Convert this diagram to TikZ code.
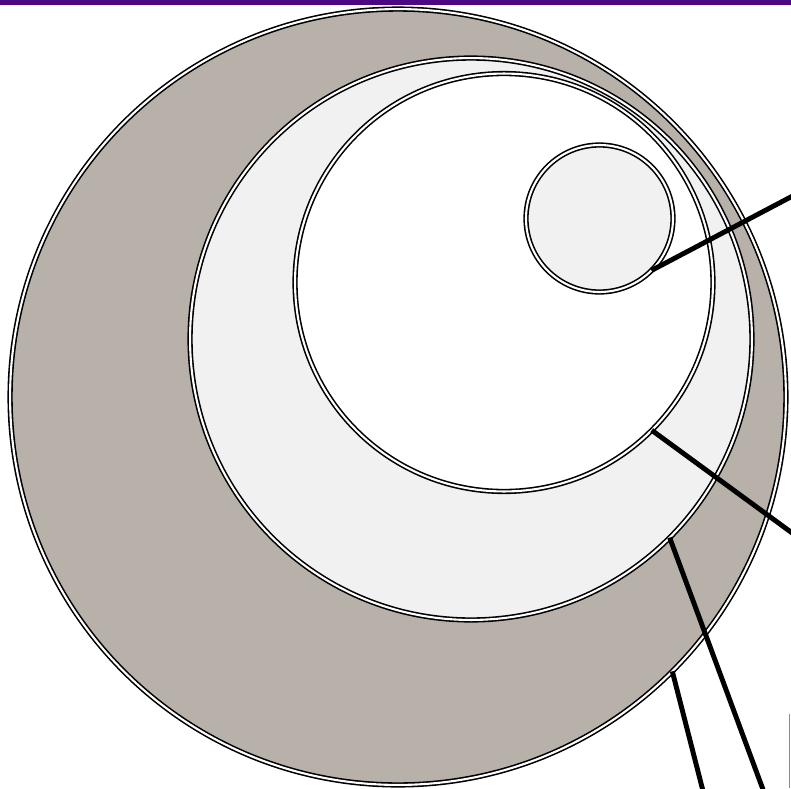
\documentclass[tikz,border=0pt]{standalone}
\usetikzlibrary{positioning}
\definecolor{RingTaupe}{HTML}{B8B1AA}
\definecolor{RingLight}{HTML}{F1F1F1}
\definecolor{BarPurple}{HTML}{4E0783}
\definecolor{EdgeGray}{HTML}{8A8A8A}
\tikzset{
  ring/.style={circle, draw=black, double=white, double distance=1.2pt,
               line width=0.9pt, inner sep=0pt, outer sep=0pt},
  pointer/.style={line width=2.8pt, black},
}
\begin{document}
\begin{tikzpicture}[x=0.02cm, y=-0.02cm]
  \useasboundingbox (0,0) rectangle (791,788);
  \clip (0,0) rectangle (791,788);

  % top band
  \fill[BarPurple] (0,0) rectangle (791,5);

  % nested circles
  \node[ring, fill=RingTaupe, minimum size=15.52cm] (outer) at (398,397) {};
  \node[ring, fill=RingLight, minimum size=11.24cm] (middle) at (471,339) {};
  \node[ring, fill=white, minimum size=8.36cm] (inner) at (504,282.5) {};
  \node[ring, fill=RingLight, minimum size=2.94cm] (core) at (599.5,218.5) {};

  % free ends beyond the frame
  \coordinate (coreEnd) at (840,171);
  \coordinate (innerEnd) at (840,568);
  \coordinate (middleEnd) at (778,830);
  \coordinate (outerEnd) at (713,830);

  \draw[pointer] (core.-45) -- (coreEnd);
  \draw[pointer] (inner.-45) -- (innerEnd);
  \draw[pointer] (middle.-45) -- (middleEnd);
  \draw[pointer] (outer.-45) -- (outerEnd);

  % edge of a box cut by the frame
  \draw[EdgeGray, line width=0.6pt] (789.5,714) -- (789.5,788);
\end{tikzpicture}
\end{document}
